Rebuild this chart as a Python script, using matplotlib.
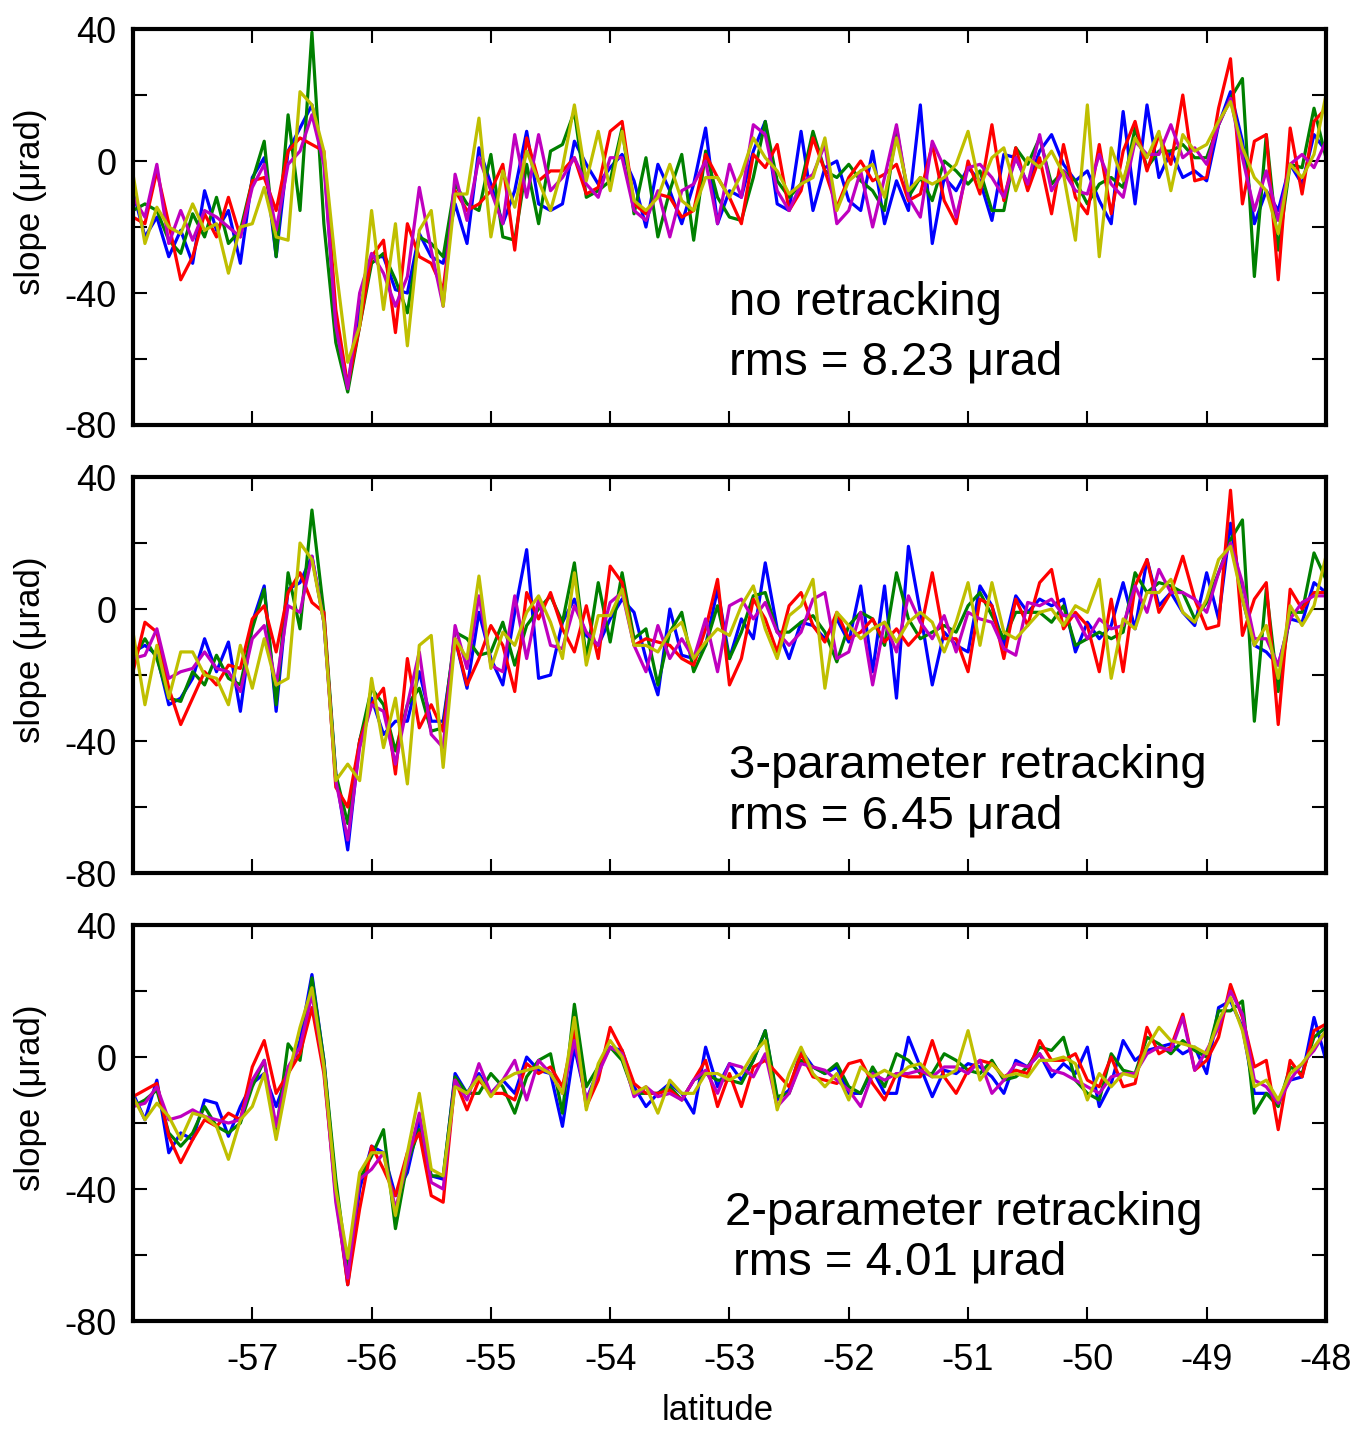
import numpy as np
import matplotlib.pyplot as plt

plt.rcParams['font.family'] = ['Liberation Sans', 'DejaVu Sans']

# latitude grid (0.1 deg steps) and slope values (microrad)
lat = np.round(np.arange(-58.0, -47.95, 0.1), 1)

# --- no retracking
p1_blue = [-9, -23, -17, -29, -21, -31, -9, -21, -15, -31, -5, 1, -29, 3, 10, 17, 1, -50, -68, -45, -29, -29, -39, -40, -22, -29,
           -31, -13, -25, 4, -7, -19, -9, 9, -13, -15, -13, 6, -1, -7, -2, 2, -6, -20, -1, -9, -19, -7, 10, -19, -9,
           -11, 3, 12, -13, -15, 9, -15, -2, 0, -12, -15, 3, -19, -6, -15, 17, -25, -5, -9, -2, -6, -18, 2, 1, -7, 3,
           8, -1, -6, -3, -12, -19, 15, -13, 17, -5, 3, -5, -3, -6, 11, 21, 6, -19, -9, -15, -1, -7, 8, 3]
p1_green = [-15, -13, -15, -24, -28, -16, -23, -11, -25, -21, -6, 6, -29, 14, -15, 39, -19, -55, -70, -50, -31, -28, -36, -46, -23, -25,
            -29, -7, -13, -15, 2, -23, -24, -1, -19, 3, 5, 15, -11, -9, -6, 10, -16, 1, -23, -9, 2, -24, 3, -11, -17,
            -18, -5, 12, -6, -11, -7, 9, -3, -5, -1, -6, -9, -15, 10, -11, -5, -12, 0, -3, -7, -3, -15, -15, 4, -1, 7,
            -7, -3, -6, -13, -7, -5, -8, 10, -2, 3, 3, 5, 1, 1, 11, 19, 25, -35, 8, -27, -1, -2, 16, 1]
p1_red = [-17, -19, -3, -19, -36, -29, -16, -23, -11, -23, -6, -5, -15, 3, 7, 5, 3, -45, -68, -50, -29, -24, -52, -19, -29, -31,
          -39, -9, -15, -13, -9, -1, -27, 7, -6, -3, -3, 1, -10, -8, 9, 12, -13, -16, -10, -11, -17, -15, 2, -5, -11,
          -19, 2, -2, 5, -15, -9, 7, -3, -14, -5, 0, -6, -4, -1, -12, -10, 5, -12, -19, 0, -10, 11, -12, 4, -9, 1,
          -16, 5, -11, -16, 5, -16, 3, 12, -3, 8, -1, 20, -6, -5, 16, 31, -13, 6, 8, -36, 10, -10, 12, 16]
p1_magenta = [-11, -17, -1, -25, -15, -24, -15, -17, -20, -23, -8, -1, -21, -1, 3, 14, -1, -50, -69, -40, -28, -34, -44, -35, -8, -27,
              -44, -4, -18, 1, -9, -19, 8, -11, 8, -9, -5, 1, -7, -11, 1, 1, -15, -18, -9, -23, -9, -7, 0, -19, -1,
              -11, 11, 8, -9, -15, -7, -4, 5, -19, -15, -3, -20, -5, 11, -11, -17, 6, -2, -17, -2, -1, -5, -11, 1, -7, 8,
              -9, -3, -9, -10, 2, -7, -11, 6, 2, 2, 11, 1, 4, -1, 11, 19, 1, -15, -3, -18, -1, 2, -2, 6]
p1_yellow = [-4, -25, -14, -20, -22, -13, -21, -19, -34, -20, -19, -8, -23, -24, 21, 17, 3, -32, -61, -50, -15, -45, -19, -56, -21, -15,
             -44, -10, -10, 13, -23, -3, -14, 3, -6, -15, -2, 17, -6, 9, -9, 9, -12, -15, -11, -1, -12, -15, -5, -5, -11,
             -4, 7, 1, -3, -10, -7, -5, 7, -15, -6, -3, -1, -11, 7, -9, -5, -7, -5, -1, 9, -8, 1, 4, -9, 1, -2,
             3, -4, -24, 17, -29, 4, -6, 7, 1, 9, -9, 8, 3, 5, 12, 18, 4, -5, -9, -22, -1, -5, 2, 20]

# --- 3-parameter retracking
p2_blue = [-13, -11, -14, -29, -27, -21, -9, -19, -10, -31, -4, 7, -31, 6, 8, 16, -4, -50, -73, -40, -27, -38, -34, -34, -19, -34,
           -34, -9, -24, -1, -15, -23, -1, 18, -21, -20, -4, 3, -8, -11, -3, 3, -1, -15, -26, 0, -14, -15, -11, 6, -15,
           -3, -9, 14, -6, -15, -4, -5, -9, -3, -10, 7, -19, 7, -27, 19, -1, -23, -7, -11, -13, 7, 1, -11, 4, -1, 3,
           1, 3, -13, -4, -9, -5, 8, -6, 15, 1, 5, -1, -5, 11, -3, 26, 3, -11, -13, -17, -3, -4, 8, 5]
p2_green = [-15, -9, -15, -27, -28, -19, -23, -14, -21, -23, -6, 6, -29, 11, -6, 30, -1, -50, -65, -40, -24, -29, -43, -29, -24, -37,
            -36, -7, -9, -14, -13, -4, -17, -5, 0, 4, -4, 14, -15, 8, -10, 11, -9, -6, -23, -7, -1, -19, -11, 1, -15,
            -7, 4, 5, -7, -7, -4, -2, -7, -16, -5, -1, -3, -11, 11, -3, -9, -7, -5, -7, 1, 5, -2, -9, -1, -1, -1,
            -4, 1, -11, -9, -7, -9, -7, 11, 5, 8, 7, 5, -3, 2, 11, 21, 27, -34, 6, -25, -1, -1, 17, 9]
p2_red = [-19, -4, -7, -24, -35, -27, -19, -23, -17, -18, -3, 1, -13, 5, 11, 2, -1, -54, -60, -40, -29, -24, -50, -15, -36, -29,
          -37, -9, -23, -15, -5, -11, -25, 5, -3, 5, -6, -13, 1, -15, 13, 8, -11, -9, -10, -11, -15, -17, -6, 9, -23,
          -15, 3, -3, -13, 1, 5, -5, -10, -1, -9, -7, -3, -10, -6, -11, -7, 11, -9, -9, -19, 3, 1, -15, 3, -5, 8,
          12, -6, -1, -5, -19, 3, -19, 7, 15, -1, 5, 16, 3, -6, -5, 36, -8, 3, 8, -35, 6, 0, 5, 5]
p2_magenta = [-15, -14, -6, -21, -19, -18, -13, -18, -19, -25, -9, -5, -23, 1, -1, 16, -4, -52, -70, -42, -29, -31, -47, -29, -13, -38,
              -42, -5, -18, 4, -17, -19, 4, -15, 3, -11, -12, 1, -7, -11, 2, 5, -11, -19, -5, -15, -9, -15, -3, -19, 1,
              3, -3, 2, -7, -11, -7, 3, 5, -15, -13, -1, -23, -4, -13, 4, -4, -9, -2, -13, -1, -3, -4, -12, -14, 2, 1,
              3, -2, -2, -9, -3, -6, -5, 7, -1, 12, 5, 5, 3, -1, 11, 20, 8, -9, -9, -17, -3, 2, 4, 4]
p2_yellow = [-7, -29, -11, -27, -13, -13, -20, -21, -29, -11, -24, -9, -23, -21, 20, 15, -4, -52, -47, -52, -21, -42, -27, -53, -11, -8,
             -48, -9, -15, 10, -18, -7, -11, -1, 4, -4, -15, 11, -17, -2, -2, 6, -11, -11, -13, -7, -4, -15, -10, -6, -8,
             1, 7, -6, -15, -2, 1, 9, -24, -1, -5, -9, -6, -4, -10, -4, -1, -4, -13, -4, 8, -11, 8, -7, -9, -5, -1,
             0, -5, 1, -1, 9, -21, -3, -6, 5, 5, 9, -1, -4, 3, 15, 19, 3, -11, -5, -21, 1, -5, 1, 16]

# --- 2-parameter retracking
p3_blue = [-11, -19, -7, -29, -23, -25, -13, -14, -24, -15, -8, -5, -15, -5, 5, 25, -1, -40, -69, -40, -27, -29, -42, -35, -19, -36,
           -37, -5, -11, -5, -11, -7, -11, 0, -4, -5, -21, 3, -13, -4, 3, 2, -9, -15, -11, -8, -11, -17, 3, -9, -2,
           -7, -1, 8, -13, -10, 2, -3, -5, -3, -11, -11, -4, -11, -11, 6, -3, -12, -4, -5, -2, -3, -6, -11, -1, -3, 1,
           -6, -2, -5, 3, -15, -8, 5, -1, 2, 3, 4, 1, 3, -5, 15, 17, 9, -11, -11, -13, -7, -6, 12, -1]
p3_green = [-15, -13, -10, -23, -27, -23, -15, -21, -23, -20, -9, -1, -23, 4, -1, 24, -1, -37, -65, -37, -30, -22, -52, -32, -22, -36,
            -36, -6, -11, -11, -5, -9, -17, -6, -1, 1, -17, 16, -9, -3, 3, -1, -11, -11, -11, -9, -13, -7, -5, -7, -7,
            -8, -1, 8, -12, -11, -1, -3, -5, -2, -9, -11, -3, -9, 1, -1, -5, -5, 1, -1, -4, -5, -1, -7, -6, -3, 3,
            2, 6, -7, -11, -13, 1, -4, -5, 6, 4, 1, 5, 2, 0, 14, 14, 17, -17, -11, -15, -3, -5, 6, 9]
p3_red = [-12, -10, -8, -24, -32, -25, -19, -21, -17, -19, -3, 5, -11, -5, 1, 15, -5, -42, -69, -46, -27, -34, -42, -29, -23, -42,
          -44, -7, -16, -7, -11, -11, -13, -2, -5, -3, -9, 8, -15, -7, 9, 2, -8, -11, -11, -10, -13, -7, -1, -15, -5,
          -15, -3, -1, -5, -9, 1, -6, -7, -8, -2, -1, -8, -13, -5, -6, -6, 5, -6, -11, -4, -1, -2, -6, -4, -5, 5,
          -1, -1, 1, -7, -9, 0, -9, -8, 9, 1, 3, 13, -4, -1, 6, 22, 12, -3, -1, -22, -1, -6, 8, 10]
p3_magenta = [-15, -14, -9, -19, -18, -16, -18, -19, -20, -19, -7, -1, -21, -3, 3, 19, -3, -44, -67, -37, -34, -29, -46, -32, -17, -38,
              -40, -7, -13, -2, -11, -7, -1, -13, -1, -5, -11, 5, -13, -5, 3, 1, -12, -9, -12, -11, -13, -7, -4, -11, -2,
              -3, -6, 1, -15, -11, -2, -3, -4, -7, -10, -15, -5, -7, -5, -5, -4, -6, -3, -3, -5, -1, -11, -7, -2, -3, 1,
              -4, -5, -7, -9, -11, -6, -5, -5, 1, 3, 2, 12, -4, 2, 9, 20, 13, -7, -9, -14, -7, -2, 2, 8]
p3_yellow = [-12, -19, -14, -18, -25, -17, -18, -21, -31, -19, -15, -5, -25, -6, 9, 21, -3, -40, -61, -35, -29, -29, -48, -29, -11, -34,
             -36, -9, -11, -6, -12, -7, -5, -4, -3, -5, -11, 12, -16, -2, 5, 0, -11, -9, -17, -7, -11, -11, -5, -5, -7,
             -5, 1, 5, -16, -5, 3, -5, -9, -5, -13, -3, -6, -4, -6, -3, -2, -6, -6, -4, 8, -7, -2, -6, -5, -6, -1,
             -1, 0, -2, -13, -5, -9, -5, -6, 3, 9, 5, 4, 3, 1, 11, 18, 8, -9, -7, -13, -5, -2, 3, 8]

labels1 = ['no retracking', 'rms = 8.23 μrad']
labels2 = ['3-parameter retracking', 'rms = 6.45 μrad']
labels3 = ['2-parameter retracking', 'rms = 4.01 μrad']

colors = ['b', 'g', 'r', 'm', 'y']
xticks = [-57, -56, -55, -54, -53, -52, -51, -50, -49, -48]
yticks = [-80, -60, -40, -20, 0, 20, 40]
ylabs = ['-80', '', '-40', '', '0', '', '40']

panels = [
    ([p1_blue, p1_green, p1_red, p1_magenta, p1_yellow], labels1, [(-53.0, -46.7), (-53.0, -64.8)]),
    ([p2_blue, p2_green, p2_red, p2_magenta, p2_yellow], labels2, [(-53.0, -51.2), (-53.0, -66.4)]),
    ([p3_blue, p3_green, p3_red, p3_magenta, p3_yellow], labels3, [(-53.04, -50.9), (-52.97, -66.0)]),
]

fig = plt.figure(figsize=(13.53, 14.30), dpi=100)
bottoms = [0.7028, 0.3895, 0.0762]

for k, (series, txt, pos) in enumerate(panels):
    ax = fig.add_axes([0.0983, bottoms[k], 0.8817, 0.2769])
    for s, c in zip(series, colors):
        ax.plot(lat, s, color=c, lw=2.3, solid_joinstyle='round')
    ax.set_xlim(-58, -48)
    ax.set_ylim(-80, 40)
    ax.set_xticks(xticks)
    ax.set_yticks(yticks)
    ax.set_yticklabels(ylabs)
    if k == 2:
        ax.set_xticklabels([str(t) for t in xticks])
        ax.set_xlabel('latitude', fontsize=25)
        ax.xaxis.set_label_coords(0.49, -0.185)
    else:
        ax.set_xticklabels([])
    ax.tick_params(direction='in', top=True, right=True, length=10, width=1.5,
                   labelsize=26, pad=12)
    ax.tick_params(axis='x', pad=16)
    for sp in ax.spines.values():
        sp.set_linewidth(3)
    ax.set_ylabel('slope (μrad)', fontsize=25)
    ax.yaxis.set_label_coords(-0.072, 0.565)
    for (tx, ty), t in zip(pos, txt):
        ax.text(tx, ty, t, fontsize=34, va='baseline', ha='left')

fig.savefig('out.png', dpi=100)
